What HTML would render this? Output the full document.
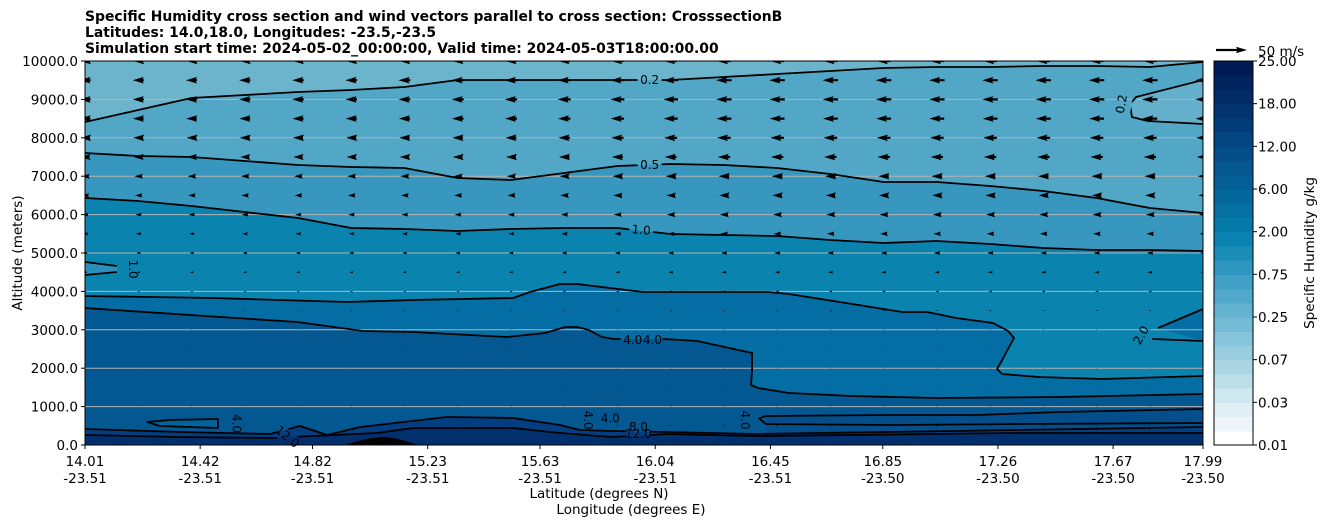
<!DOCTYPE html>
<html><head><meta charset="utf-8">
<style>
html,body{margin:0;padding:0;background:#fff;}
svg{display:block;font-family:"DejaVu Sans","Liberation Sans",sans-serif;}
</style></head>
<body>
<svg id="chart" width="1326" height="526" viewBox="0 0 1326 526" xmlns="http://www.w3.org/2000/svg">
<defs>
<clipPath id="plotclip"><rect x="85" y="61" width="1118" height="384"/></clipPath>
<mask id="labelmask" maskUnits="userSpaceOnUse" x="0" y="0" width="1326" height="526"><rect x="0" y="0" width="1326" height="526" fill="#fff"/><g id="maskholes"></g></mask>
</defs>
<g font-weight="bold" font-size="13.9" fill="#000">
<text x="85" y="21">Specific Humidity cross section and wind vectors parallel to cross section: CrosssectionB</text>
<text x="85" y="37">Latitudes: 14.0,18.0, Longitudes: -23.5,-23.5</text>
<text x="85" y="53">Simulation start time: 2024-05-02_00:00:00, Valid time: 2024-05-03T18:00:00.00</text>
</g>
<g id="fills" clip-path="url(#plotclip)"></g>
<g id="grid"></g>
<g id="lines" clip-path="url(#plotclip)"></g>
<g id="clabels" font-size="12" fill="#000"></g>
<g id="arrows" clip-path="url(#plotclip)"></g>
<rect x="85" y="61" width="1118" height="384" fill="none" stroke="#000" stroke-width="1"/>
<g id="axes" font-size="13.5" fill="#000"></g>
<g id="cbar"></g>
</svg>
<script>
// ---- data ----
const latMin = 14.01, latMax = 17.99;
const altMax = 10000;
const xTickLats = ["14.01","14.42","14.82","15.23","15.63","16.04","16.45","16.85","17.26","17.67","17.99"];
const xTickLons = ["-23.51","-23.51","-23.51","-23.51","-23.51","-23.51","-23.51","-23.50","-23.50","-23.50","-23.50"];
const yTicks = [0,1000,2000,3000,4000,5000,6000,7000,8000,9000,10000];
const nCols = 22;
const c02Alt = [8411,8723,9036,9114,9192,9244,9322,9504,9504,9504,9504,9504,9583,9661,9739,9817,9843,9843,9869,9869,9843,9973];
const c05Alt = [7604,7526,7500,7396,7292,7240,7214,6953,6901,7083,7265,7318,7292,7214,7057,6849,6849,6744,6614,6432,6172,6041];
const c10Alt = [6432,6354,6224,6067,5911,5651,5625,5573,5625,5651,5651,5494,5468,5442,5338,5260,5312,5234,5130,5078,5078,5052];
const c02Right = [[17.99,9504],[17.752,9062],[17.73,8880],[17.737,8541],[17.794,8437],[17.99,8359]];
const c10LeftUp = [[14.01,4765],[14.124,4661]];
const c10LeftLo = [[14.124,4505],[14.01,4427]];
const c20Line = [[14.01,3880],[14.466,3828],[14.943,3724],[15.178,3776],[15.534,3828],[15.594,3984],[15.701,4192],[15.762,4192],[15.996,3984],[16.441,3984],[16.516,3932],[16.741,3672],[16.919,3463],[17.008,3463],[17.111,3307],[17.243,3177],[17.296,2969],[17.317,2786],[17.275,2213],[17.257,1979],[17.275,1849],[17.406,1771],[17.631,1719],[17.99,1797]];
const c20RightUp = [[17.83,3047],[17.99,3541]];
const c20RightLo = [[17.809,2760],[17.99,2708]];
const c40Line = [[14.01,3567],[14.384,3385],[14.765,3203],[15.0,2969],[15.178,2943],[15.512,2812],[15.648,2916],[15.719,3073],[15.762,3073],[15.804,2995],[15.85,2812],[15.893,2760],[16.071,2760],[16.189,2708],[16.385,2396],[16.385,1953],[16.381,1562],[16.406,1484],[16.516,1354],[16.741,1276],[17.036,1224],[17.481,1250],[17.99,1328]];
const c40LeftLoop = [[14.483,677],[14.313,651],[14.231,599],[14.277,495],[14.483,443]];
const c40RightUp = [[16.434,755],[16.886,781],[17.186,781],[17.481,859],[17.99,937]];
const c40RightLo = [[16.434,547],[16.886,521],[17.331,547],[17.99,573]];
const lowA = [[14.01,417],[14.348,339],[14.669,286],[14.775,495],[14.872,260],[14.99,469],[15.299,729],[15.534,703],[15.701,521],[15.772,391],[15.886,365],[16.085,339],[16.399,286],[17.331,391],[17.99,469]];
const lowB = [[14.01,260],[14.348,208],[14.669,182],[15.05,312],[15.178,443],[15.534,443],[15.701,312],[15.886,208],[16.085,286],[16.399,234],[17.331,312],[17.99,312]];
const terrainLat = [14.93,14.97,15.02,15.07,15.12,15.17,15.2];
const terrainAlt = [0,80,170,210,170,60,0];
// wind (m/s, + = toward north / right)
const windAlts = [500,1000,1500,2000,2500,3000,3500,4000,4500,5000,5500,6000,6500,7000,7500,8000,8500,9000,9500,10000];
const windRowU = [3,-2,-1.5,-1.5,-1.5,-2,-3,-5,-7,-9,-11,-13,-15,-17,-20,-22,-24,-25,-25,-22];
const windColScale = [0.72,0.72,0.72,0.73,0.74,0.75,0.76,0.78,0.8,0.84,0.9,0.95,1,1,1,1,1,1,1,1,1,1];
const cbarTicks = ["0.01","0.03","0.07","0.25","0.75","2.00","6.00","12.00","18.00","25.00"];
const cbarColors = ["#ffffff","#eef5f8","#e0eff4","#d0e8ef","#bcdfe9","#aad6e3","#98cde0","#86c4db","#74bbd5","#62b2d0","#50a8ca","#3f9fc5","#2e96bf","#1c8cb9","#0b83b2","#057aa9","#0571a2","#05689c","#045f96","#04578f","#034e88","#034581","#023c79","#023470","#012c68","#01245f","#001a56"];

// ---- axes ----
const NS = "http://www.w3.org/2000/svg";
function X(lat){ return 85 + (lat-latMin)/(latMax-latMin)*1118; }
function Y(alt){ return 445 - alt/altMax*384; }
function el(tag, attrs, parent){ const e=document.createElementNS(NS,tag); for(const k in attrs) e.setAttribute(k,attrs[k]); parent.appendChild(e); return e; }
const colLats = Array.from({length:nCols},(_,i)=>latMin+i*(latMax-latMin)/(nCols-1));
function ptsStr(pts){ return pts.map(p=>X(p[0]).toFixed(1)+","+Y(p[1]).toFixed(1)).join(" "); }
function colPts(arr){ return colLats.map((l,i)=>[l,arr[i]]); }
function areaBelow(pts){ const f=pts[0], l=pts[pts.length-1]; return ptsStr(pts)+" "+X(l[0])+","+Y(0)+" "+X(f[0])+","+Y(0); }

const fills = document.getElementById('fills');
let r = el('rect',{x:85,y:61,width:1118,height:384,fill:'#6cb4cc'},fills);


function fillPoly(pts, color, name, closedOnly){
  const p = el('polygon',{points: closedOnly ? ptsStr(pts) : areaBelow(pts), fill: color}, fills);
  
  
}
fillPoly(colPts(c02Alt), '#52a7c7', 'fill-0.2-0.5');
fillPoly(c02Right, '#63afcc', 'fill-right-pocket-0.2', true);
fillPoly(colPts(c05Alt), '#3797bf', 'fill-0.5-1.0');
fillPoly(colPts(c10Alt), '#0a83af', 'fill-1.0-2.0');
fillPoly(c10LeftUp.concat(c10LeftLo), '#2a90bb', 'fill-left-pocket-1.0', true);
fillPoly(c20Line, '#046da3', 'fill-2.0-4.0');
fillPoly(c20RightUp.concat(c20RightLo.slice().reverse()).concat([[17.99,2708]]), '#046da3', 'fill-right-pocket-2.0', true);
fillPoly(c40Line, '#045891', 'fill-above-4.0');
fillPoly(c40LeftLoop, '#04629a', 'fill-left-loop-4.0', true);
fillPoly(c40RightUp, '#034e8b', 'fill-right-band-4.0');
fillPoly(lowA, '#033f80', 'fill-8.0');
fillPoly(lowB, '#022f6e', 'fill-12.0');
const terr = el('polygon',{points: ptsStr(terrainLat.map((l,i)=>[l,terrainAlt[i]])), fill:'#000'}, fills);



// grid
const grid = document.getElementById('grid');
yTicks.slice(1,-1).forEach(v=>{
  const g = el('line',{x1:85,x2:1203,y1:Y(v),y2:Y(v),stroke:'#b4b4b4','stroke-width':1},grid);
  
  
});

// contour lines
const lines = document.getElementById('lines');
lines.setAttribute('mask','url(#labelmask)');
function line(pts, name, closed){
  const p = el(closed?'polygon':'polyline',{points: ptsStr(pts), fill:'none', stroke:'#000','stroke-width':1.8,'stroke-linejoin':'round'}, lines);
  
  
}
line(colPts(c02Alt),'contour-0.2');
line(c02Right,'contour-0.2-right');
line(colPts(c05Alt),'contour-0.5');
line(colPts(c10Alt),'contour-1.0');
line(c10LeftUp,'contour-1.0-left-upper');
line(c10LeftLo,'contour-1.0-left-lower');
line(c20Line,'contour-2.0');
line(c20RightUp,'contour-2.0-right-upper');
line(c20RightLo,'contour-2.0-right-lower');
line(c40Line,'contour-4.0');
line(c40LeftLoop,'contour-4.0-left-loop',true);
line(c40RightUp,'contour-4.0-right-upper');
line(c40RightLo,'contour-4.0-right-lower');
line([[16.434,755],[16.41,690],[16.434,547]],'contour-4.0-right-join');
line(lowA,'contour-8.0');
line(lowB,'contour-12.0');

// contour labels (with gaps in lines)
const holes = document.getElementById('maskholes');
const clabels = document.getElementById('clabels');
const labelDefs = [
  ["0.2",16.02,9504,0,24,12],["0.5",16.02,7292,0,24,12],["1.0",15.99,5599,5,24,12],
  ["1.0",14.18,4580,90,12,24],["4.0",15.96,2740,0,24,12],["4.0",16.03,2740,0,20,12],
  ["2.0",17.77,2860,-60,14,20],["0.2",17.7,8880,-80,12,20],
  ["4.0",14.55,560,90,12,22],["12.0",14.73,210,40,20,14],["4.0",15.8,650,90,12,20],
  ["4.0",15.88,690,0,20,12],["8.0",15.98,470,0,20,10],["12.0",15.98,290,0,24,10],["4.0",16.36,650,90,12,22]
];
labelDefs.forEach(d=>{
  const x=X(d[1]), y=Y(d[2]);
  el('rect',{x:x-d[4]/2,y:y-d[5]/2,width:d[4],height:d[5],fill:'#000',transform:`rotate(${d[3]} ${x} ${y})`},holes);
  const t = el('text',{x:x,y:y+4,'text-anchor':'middle',transform:`rotate(${d[3]} ${x} ${y})`},clabels);
  t.textContent = d[0];
  
  
});

// wind arrows
const arrows = document.getElementById('arrows');
const pxPerMs = 0.62, w = 2.2;
function arrowPath(cx, cy, len){
  const dir = len<0?-1:1; let L=Math.abs(len);
  const hl=5*w, hal=4.5*w, hw=3*w/2, sw=w/2;
  let s=1; if(L<hal){ s=L/hal; L=hal; }
  const pts=[[0,-sw],[L-hal,-sw],[L-hl,-hw],[L,0],[L-hl,hw],[L-hal,sw],[0,sw]];
  return pts.map(p=>{ const px=(p[0]-L/2)*s*dir, py=p[1]*s; return (cx+px).toFixed(1)+","+(cy+py).toFixed(1); }).join(" ");
}
windAlts.forEach((a,ri)=>{
  colLats.forEach((lat,ci)=>{
    const u = windRowU[ri]*windColScale[ci];
    const p = el('polygon',{points: arrowPath(X(lat), Y(a), u*pxPerMs), fill:'#000'}, arrows);
    
    
  });
});

// axes ticks and labels
const axes = document.getElementById('axes');
yTicks.forEach(v=>{
  el('line',{x1:81,x2:85,y1:Y(v),y2:Y(v),stroke:'#000'},axes);
  const t = el('text',{x:78,y:Y(v)+5,'text-anchor':'end'},axes);
  t.textContent = v.toFixed(1);
  
  
});
xTickLats.forEach((lat,i)=>{
  const x = X(parseFloat(lat));
  el('line',{x1:x,x2:x,y1:445,y2:449,stroke:'#000'},axes);
  const t = el('text',{x:x,y:466,'text-anchor':'middle'},axes);
  t.textContent = lat;
  
  
  const t2 = el('text',{x:x,y:483,'text-anchor':'middle'},axes);
  t2.textContent = xTickLons[i];
  
  
});
let t = el('text',{x:599,y:498,'text-anchor':'middle'},axes); t.textContent='Latitude (degrees N)';


t = el('text',{x:631,y:514,'text-anchor':'middle'},axes); t.textContent='Longitude (degrees E)';


t = el('text',{x:22,y:253,'text-anchor':'middle',transform:'rotate(-90 22 253)'},axes); t.textContent='Altitude (meters)';



// colorbar
const cbar = document.getElementById('cbar');
const cbTop=61, cbBot=445, cbX=1214, cbW=39, nb=cbarColors.length, bh=(cbBot-cbTop)/nb;
cbarColors.forEach((c,i)=>{
  const b = el('rect',{x:cbX,y:cbBot-(i+1)*bh,width:cbW,height:bh+0.6,fill:c},cbar);
  
  
});
el('rect',{x:cbX,y:cbTop,width:cbW,height:cbBot-cbTop,fill:'none',stroke:'#000','stroke-width':1},cbar);
cbarTicks.forEach((lab,i)=>{
  const y = cbBot - i*(cbBot-cbTop)/(cbarTicks.length-1);
  el('line',{x1:cbX+cbW,x2:cbX+cbW+4,y1:y,y2:y,stroke:'#000'},cbar);
  const tt = el('text',{x:1258,y:y+5,'font-size':13.5},cbar);
  tt.textContent = lab;
  
  
});
t = el('text',{x:1314,y:253,'text-anchor':'middle','font-size':13.5,transform:'rotate(-90 1314 253)'},cbar); t.textContent='Specific Humidity g/kg';


// quiver key
const keyLen = 50*pxPerMs;
const k = el('polygon',{points: arrowPath(1216+keyLen/2, 50, keyLen), fill:'#000'}, cbar);


t = el('text',{x:1258,y:56,'font-size':13.5},cbar); t.textContent='50 m/s';


</script>
</body></html>
